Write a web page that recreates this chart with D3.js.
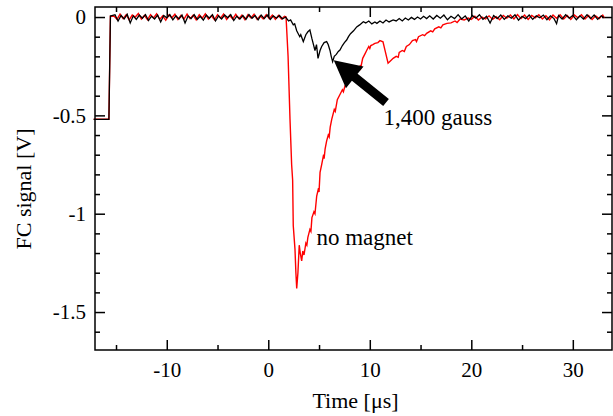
<!DOCTYPE html>
<html>
<head>
<meta charset="utf-8">
<script src="https://cdn.jsdelivr.net/npm/d3@7"></script>
<style>
  body { margin: 0; background: #fff; }
  svg { display: block; font-family: "Liberation Serif", "Times New Roman", serif; }
  .axis text { font-family: "Liberation Serif", "Times New Roman", serif; font-size: 21px; fill: #000; }
  .axis line { stroke: #000; stroke-width: 1.5px; }
  .axis path { display: none; }
</style>
</head>
<body>
<svg width="613" height="416"></svg>
<script>
// tick values
var xMajor = [-10, 0, 10, 20, 30];
var xMinor = [-15, -5, 5, 15, 25];
var yMajor = [0, -0.5, -1, -1.5];
var yMinor = [-0.1, -0.2, -0.3, -0.4, -0.6, -0.7, -0.8, -0.9, -1.1, -1.2, -1.3, -1.4, -1.6];

// no magnet (red): [time us, signal V]
var noMagnet = [
  [-17.2,-0.52],[-15.7,-0.52],[-15.55,0.004],[-15.2,0.005],[-14.9,-0.012],[-14.6,0.015],[-14.3,-0.008],
  [-14.0,0.012],[-13.7,-0.015],[-13.4,0.01],[-13.1,0.0],[-12.8,0.018],[-12.5,-0.01],[-12.2,0.008],
  [-11.9,-0.014],[-11.6,0.012],[-11.3,-0.005],[-11.0,0.016],[-10.7,-0.012],[-10.4,0.006],[-10.1,-0.016],
  [-9.8,0.01],[-9.5,-0.004],[-9.2,0.014],[-8.9,-0.012],[-8.6,0.008],[-8.3,-0.01],[-8.0,0.015],
  [-7.7,-0.008],[-7.4,0.01],[-7.1,-0.015],[-6.8,0.012],[-6.5,-0.006],[-6.2,0.016],[-5.9,-0.01],
  [-5.6,0.006],[-5.3,-0.014],[-5.0,0.012],[-4.7,-0.006],[-4.4,0.015],[-4.1,-0.012],[-3.8,0.008],
  [-3.5,-0.01],[-3.2,0.014],[-2.9,-0.008],[-2.6,0.01],[-2.3,-0.014],[-2.0,0.012],[-1.7,-0.005],
  [-1.4,0.014],[-1.1,-0.012],[-0.8,0.006],[-0.5,-0.01],[-0.2,0.012],[0.1,-0.008],[0.4,0.01],
  [0.7,-0.012],[1.0,0.008],[1.3,-0.01],[1.6,0.004],[1.75,0.0],[1.95,-0.2],[2.14,-0.52],[2.3,-0.75],
  [2.4,-0.83],[2.46,-1.06],[2.63,-1.18],[2.72,-1.3],[2.8,-1.38],[2.92,-1.3],[3.05,-1.16],[3.15,-1.2],
  [3.29,-1.24],[3.4,-1.19],[3.52,-1.21],[3.7,-1.15],[3.8,-1.16],[3.9,-1.12],[4.1,-1.08],[4.2,-1.09],
  [4.3,-1.02],[4.5,-0.99],[4.6,-1.0],[4.77,-0.91],[4.95,-0.87],[5.0,-0.89],[5.1,-0.79],[5.26,-0.75],
  [5.45,-0.7],[5.5,-0.72],[5.6,-0.67],[5.75,-0.63],[5.91,-0.6],[6.0,-0.61],[6.1,-0.56],[6.25,-0.52],
  [6.5,-0.47],[6.6,-0.48],[6.8,-0.42],[7.1,-0.39],[7.3,-0.37],[7.4,-0.38],[7.56,-0.35],[7.8,-0.33],
  [8.1,-0.3],[8.2,-0.31],[8.4,-0.285],[8.7,-0.27],[9.03,-0.25],[9.1,-0.26],[9.3,-0.21],[9.5,-0.19],
  [9.69,-0.17],[9.9,-0.15],[10.0,-0.16],[10.1,-0.145],[10.3,-0.14],[10.5,-0.134],[10.8,-0.13],
  [11.0,-0.12],[11.3,-0.126],[11.5,-0.17],[11.8,-0.235],[12.0,-0.225],[12.3,-0.21],[12.6,-0.2],
  [12.8,-0.205],[12.9,-0.18],[13.2,-0.17],[13.4,-0.175],[13.6,-0.15],[13.9,-0.14],[14.2,-0.12],
  [14.5,-0.115],[14.6,-0.125],[14.8,-0.1],[15.2,-0.09],[15.4,-0.095],[15.6,-0.083],[16.0,-0.07],
  [16.2,-0.075],[16.4,-0.06],[16.8,-0.05],[17.0,-0.055],[17.2,-0.04],[17.6,-0.032],[18.0,-0.03],
  [18.4,-0.02],[18.6,-0.028],[18.9,-0.01],[19.3,-0.015],[19.7,-0.005],[20.0,-0.012],[20.35,0.004],
  [20.7,-0.015],[21.05,0.0],[21.4,-0.01],[21.75,0.006],[22.1,-0.012],[22.45,0.002],[22.8,-0.014],
  [23.15,0.008],[23.5,-0.006],[23.85,0.01],[24.2,-0.01],[24.55,0.012],[24.9,-0.008],[25.25,0.01],
  [25.6,-0.012],[25.95,0.008],[26.3,-0.004],[26.65,0.012],[27.0,-0.01],[27.35,0.006],[27.7,-0.014],
  [28.05,0.01],[28.4,-0.006],[28.75,0.012],[29.1,-0.01],[29.45,0.008],[29.8,-0.012],[30.15,0.01],
  [30.5,-0.004],[30.85,0.012],[31.2,-0.01],[31.55,0.008],[31.9,-0.012],[32.25,0.006],[32.6,-0.008],
  [32.95,0.01],[33.1,-0.004]
];

// 1,400 gauss (black): [time us, signal V]
var gauss1400 = [
  [-17.2,-0.52],[-15.7,-0.52],[-15.55,0.005],[-15.1,0.012],[-14.8,-0.02],[-14.5,0.008],[-14.2,-0.01],
  [-13.9,0.014],[-13.6,-0.03],[-13.3,0.006],[-13.0,-0.012],[-12.7,0.01],[-12.4,-0.006],[-12.1,0.012],
  [-11.8,-0.018],[-11.5,0.004],[-11.2,-0.01],[-10.9,0.01],[-10.6,-0.025],[-10.3,0.008],[-10.0,-0.004],
  [-9.7,0.012],[-9.4,-0.014],[-9.1,0.006],[-8.8,-0.01],[-8.5,0.01],[-8.2,-0.03],[-7.9,0.005],
  [-7.6,-0.008],[-7.3,0.012],[-7.0,-0.012],[-6.7,0.004],[-6.4,-0.016],[-6.1,0.01],[-5.8,-0.006],
  [-5.5,0.012],[-5.2,-0.02],[-4.9,0.006],[-4.6,-0.01],[-4.3,0.01],[-4.0,-0.004],[-3.7,0.012],
  [-3.4,-0.018],[-3.1,0.004],[-2.8,-0.01],[-2.5,0.008],[-2.2,-0.012],[-1.9,0.012],[-1.6,-0.006],
  [-1.3,0.008],[-1.0,-0.014],[-0.7,0.01],[-0.4,-0.008],[-0.1,0.01],[0.2,-0.012],[0.5,0.006],
  [0.8,-0.006],[1.1,0.008],[1.4,-0.01],[1.7,0.0],[2.0,-0.02],[2.2,-0.015],[2.46,-0.04],[2.6,-0.035],
  [2.8,-0.07],[3.1,-0.1],[3.2,-0.09],[3.45,-0.125],[3.7,-0.09],[3.9,-0.075],[4.1,-0.066],[4.3,-0.11],
  [4.6,-0.17],[4.75,-0.14],[4.9,-0.21],[5.1,-0.17],[5.26,-0.15],[5.5,-0.13],[5.75,-0.125],[5.9,-0.14],
  [6.08,-0.17],[6.2,-0.2],[6.34,-0.227],[6.5,-0.2],[6.7,-0.19],[6.9,-0.175],[7.06,-0.168],[7.3,-0.145],
  [7.5,-0.13],[7.72,-0.117],[7.9,-0.1],[8.1,-0.085],[8.4,-0.07],[8.71,-0.05],[9.0,-0.04],[9.36,-0.024],
  [9.6,-0.03],[9.9,-0.02],[10.2,-0.035],[10.5,-0.025],[10.7,-0.032],[11.0,-0.02],[11.3,-0.03],
  [11.6,-0.015],[11.9,-0.025],[12.3,-0.015],[12.6,-0.02],[12.9,-0.008],[13.2,-0.02],[13.5,-0.005],
  [13.8,-0.015],[14.1,-0.002],[14.4,-0.012],[14.7,0.0],[15.0,-0.01],[15.3,0.004],[15.6,-0.008],
  [15.9,0.006],[16.25,-0.01],[16.6,0.008],[16.95,-0.006],[17.3,0.01],[17.65,-0.014],[18.0,0.004],
  [18.35,-0.008],[18.7,0.012],[19.05,-0.01],[19.4,0.006],[19.75,-0.02],[20.1,0.008],[20.45,-0.006],
  [20.8,0.012],[21.15,-0.012],[21.5,0.004],[21.85,-0.03],[22.2,0.008],[22.55,-0.008],[22.9,0.01],
  [23.25,-0.012],[23.6,0.006],[23.95,-0.006],[24.3,0.012],[24.65,-0.016],[25.0,0.004],[25.35,-0.008],
  [25.7,0.01],[26.05,-0.012],[26.4,0.006],[26.75,-0.004],[27.1,0.01],[27.45,-0.014],[27.8,0.006],
  [28.15,-0.008],[28.4,-0.034],[28.6,0.008],[28.95,-0.01],[29.3,0.012],[29.65,-0.006],[30.0,0.008],
  [30.35,-0.014],[30.7,0.006],[31.05,-0.01],[31.4,0.012],[31.75,-0.008],[32.1,0.01],[32.45,-0.012],
  [32.8,0.006],[33.1,-0.004]
];

// annotations in data units
var arrowTip = [6.45, -0.22], arrowTail = [11.6, -0.435];
var labels = [
  {text: "1,400 gauss", t: 11.35, v: -0.549},
  {text: "no magnet", t: 4.75, v: -1.159}
];

var svg = d3.select("svg"),
    mLeft = 95, mRight = 612, mTop = 7, mBottom = 350;

var x = d3.scaleLinear().domain([-17.07, 33.86]).range([mLeft, mRight]);
var y = d3.scaleLinear().domain([0.051, -1.693]).range([mTop, mBottom]);

// axes: major ticks with labels, minor ticks, mirrored top/right
svg.append("g").attr("class", "axis")
    .attr("transform", "translate(0," + mBottom + ")")
    .call(d3.axisBottom(x).tickValues(xMajor).tickSize(-10).tickPadding(12).tickFormat(function(d) { return String(d); }));
svg.append("g").attr("class", "axis")
    .attr("transform", "translate(0," + mBottom + ")")
    .call(d3.axisBottom(x).tickValues(xMinor).tickSize(-5).tickFormat(""));
svg.append("g").attr("class", "axis")
    .attr("transform", "translate(0," + mTop + ")")
    .call(d3.axisTop(x).tickValues(xMajor).tickSize(-10).tickFormat(""));
svg.append("g").attr("class", "axis")
    .attr("transform", "translate(0," + mTop + ")")
    .call(d3.axisTop(x).tickValues(xMinor).tickSize(-5).tickFormat(""));

svg.append("g").attr("class", "axis")
    .attr("transform", "translate(" + mLeft + ",0)")
    .call(d3.axisLeft(y).tickValues(yMajor).tickSize(-10).tickPadding(9).tickFormat(function(d) { return String(d); }));
svg.append("g").attr("class", "axis")
    .attr("transform", "translate(" + mLeft + ",0)")
    .call(d3.axisLeft(y).tickValues(yMinor).tickSize(-5).tickFormat(""));
svg.append("g").attr("class", "axis")
    .attr("transform", "translate(" + mRight + ",0)")
    .call(d3.axisRight(y).tickValues(yMajor).tickSize(-10).tickFormat(""));
svg.append("g").attr("class", "axis")
    .attr("transform", "translate(" + mRight + ",0)")
    .call(d3.axisRight(y).tickValues(yMinor).tickSize(-5).tickFormat(""));

var line = d3.line()
    .x(function(d) { return x(d[0]); })
    .y(function(d) { return y(d[1]); });

svg.append("path")
    .attr("d", line(noMagnet))
    .attr("fill", "none")
    .attr("stroke", "#ff0000")
    .attr("stroke-width", 1.4);

svg.append("path")
    .attr("d", line(gauss1400))
    .attr("fill", "none")
    .attr("stroke", "#000")
    .attr("stroke-width", 1.3);

// frame
svg.append("rect")
    .attr("x", mLeft).attr("y", mTop)
    .attr("width", mRight - mLeft).attr("height", mBottom - mTop)
    .attr("fill", "none").attr("stroke", "#000").attr("stroke-width", 1.5);

// arrow
var tx = x(arrowTip[0]), ty = y(arrowTip[1]),
    sx = x(arrowTail[0]), sy = y(arrowTail[1]);
var ang = Math.atan2(sy - ty, sx - tx),
    headLen = 27, headW = 14, shaftW = 4.5;
var ux = Math.cos(ang), uy = Math.sin(ang), px = -uy, py = ux;
var bx = tx + ux * headLen, by = ty + uy * headLen;
var pts = [
  [tx, ty],
  [bx + px * headW, by + py * headW],
  [bx + px * shaftW, by + py * shaftW],
  [sx + px * shaftW, sy + py * shaftW],
  [sx - px * shaftW, sy - py * shaftW],
  [bx - px * shaftW, by - py * shaftW],
  [bx - px * headW, by - py * headW]
];
svg.append("polygon")
    .attr("points", pts.map(function(p) { return p.join(","); }).join(" "))
    .attr("fill", "#000");

svg.selectAll(".note")
    .data(labels)
    .enter().append("text")
    .attr("class", "note")
    .attr("x", function(d) { return x(d.t); })
    .attr("y", function(d) { return y(d.v); })
    .attr("font-size", 23)
    .text(function(d) { return d.text; });

// axis titles
svg.append("text")
    .attr("x", (mLeft + mRight) / 2 + 2)
    .attr("y", 408)
    .attr("text-anchor", "middle")
    .attr("font-size", 22)
    .text("Time [\u03bcs]");

svg.append("text")
    .attr("transform", "translate(31," + 189 + ") rotate(-90)")
    .attr("text-anchor", "middle")
    .attr("font-size", 22)
    .text("FC signal [V]");
</script>
</body>
</html>
